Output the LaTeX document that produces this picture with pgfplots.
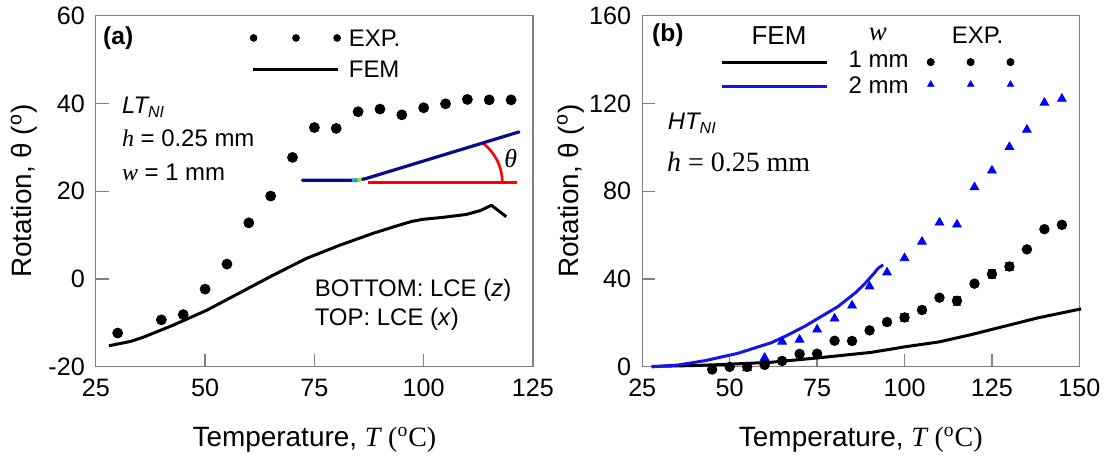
\documentclass[border=0pt]{standalone}
\usepackage{fontspec}
\setmainfont{Liberation Sans}
\newfontfamily\timesfont{Liberation Serif}
\usepackage{pgfplots}
\usepackage{pgfplotstable}
\pgfplotsset{compat=1.18}

\definecolor{framegray}{RGB}{128,128,128}
\definecolor{femblue}{RGB}{20,20,235}
\definecolor{expblue}{RGB}{0,0,255}
\definecolor{navy}{RGB}{10,10,140}

% Panel (a): LT_NI, h = 0.25 mm, w = 1 mm
\pgfplotstableread{
T theta
30 -12.3
40 -9.3
45 -8.1
50 -2.3
55 3.4
60 12.8
65 18.9
70 27.7
75 34.5
80 34.3
85 38.1
90 38.7
95 37.4
100 39.0
105 39.9
110 40.9
115 40.8
120 40.8
}\expA

\pgfplotstableread{
T theta
28 -15.2
33 -14.2
36 -13.2
42.7 -10.5
50.4 -7.1
58 -3.1
65.6 0.9
73.2 4.7
80.8 7.7
88.4 10.4
93.5 12.0
97.2 13.1
99.8 13.6
104 14.0
109.7 14.7
113 15.6
115.5 16.8
118.9 14.2
}\femA

% Panel (b): HT_NI, h = 0.25 mm
\pgfplotstableread{
T theta err
45 -1.2 0
50 0.0 0
55 0.0 0
60 0.9 0
65 2.7 0
70 5.9 0
75 6.0 0
80 11.9 0
85 11.8 0
90 16.6 0
95 20.4 0
100 22.5 2
105 25.9 0
110 31.5 0
115 30.1 2
120 37.9 0
125 42.3 2
130 45.7 2
135 53.5 0
140 62.7 0
145 64.7 1.5
}\expBone

\pgfplotstableread{
T theta
55 -0.6
60 4.1
65 11.5
70 12.4
75 17.0
80 22.0
85 27.9
90 36.6
95 43.0
100 49.5
105 57.0
110 65.7
115 64.8
120 81.8
125 89.4
130 100.1
135 108.0
140 120.3
145 122.1
}\expBtwo

\pgfplotstableread{
T theta
27.7 0.2
40 0.6
50 1.2
61.9 2.1
75.3 4.1
90.5 6.6
100 9.1
110 11.4
119.1 14.7
128.6 18.5
138.1 22.3
150.5 26.4
}\femBone

\pgfplotstableread{
T theta
27.7 0
35 0.8
42.9 2.8
52.4 6.2
61.9 11.0
66 14.0
71.5 18.5
81 27.5
86 33.8
88.6 37.8
90.5 41.2
91.5 43.0
92.5 45.0
93.9 46.5
}\femBtwo

\tikzset{txt/.style={inner sep=0pt, font=\fontsize{12}{14}\selectfont}}

\pgfplotsset{
  panel/.style={
    scale only axis, width=219pt, height=176pt,
    axis line style={framegray, line width=0.6pt},
    tick style={framegray, line width=0.6pt},
    tick align=inside, major tick length=6.5pt,
    xtick pos=bottom, ytick pos=left,
    tick label style={font=\fontsize{12.6}{14}\selectfont},
    /pgf/number format/assume math mode=true,
    xticklabel shift=2.5pt, yticklabel shift=2pt,
    label style={font=\fontsize{14}{16}\selectfont},
    xlabel style={at={(axis description cs:0.5,-0.227)}, anchor=base},
    ylabel style={at={(axis description cs:-0.164,0.5)}, anchor=center},
    xlabel={Temperature, {\timesfont\itshape T} {\timesfont(\textsuperscript{o}C)}},
    ylabel={Rotation, θ (\textsuperscript{o})},
    clip=false,
  },
}

\begin{document}
\begin{tikzpicture}
\path (0,0) rectangle (553.5pt,230.5pt);

% ---------------- (a) ----------------
\begin{axis}[panel, at={(48pt,47pt)}, anchor=south west,
  xmin=25, xmax=125, ymin=-20, ymax=60,
  xtick={25,50,75,100,125}, ytick={-20,0,20,40,60}]
\addplot[black, line width=1.5pt, line join=round] table[x=T, y=theta] {\femA};
\addplot[only marks, mark=*, mark size=2.5pt, black] table[x=T, y=theta] {\expA};

% key
\addplot[only marks, mark=*, mark size=1.7pt, black] coordinates {(61.1,54.9) (70.8,54.9) (80.2,54.9)};
\addplot[black, line width=1.5pt] coordinates {(60.9,47.7) (80.5,47.7)};
\node[txt, anchor=base west] at (axis cs:82.8,53.0) {EXP.};
\node[txt, anchor=base west] at (axis cs:82.8,45.8) {FEM};

\node[txt, anchor=base west, font=\fontsize{12.3}{14}\selectfont\bfseries] at (axis cs:26.6,53.3) {(a)};
\node[txt, anchor=base west] at (axis cs:30.9,37.7) {\textit{LT\textsubscript{NI}}};
\node[txt, anchor=base west] at (axis cs:30.9,30.1) {{\timesfont\itshape h} = 0.25 mm};
\node[txt, anchor=base west] at (axis cs:30.9,22.5) {{\timesfont\itshape w} = 1 mm};
\node[txt, anchor=base west] at (axis cs:75.0,-4.05) {BOTTOM: LCE (\textit{z})};
\node[txt, anchor=base west] at (axis cs:75.0,-10.5) {TOP: LCE (\textit{x})};

% bending strip sketch
\draw[red, line width=1.3pt] (axis cs:87.2,22.0) -- (axis cs:121.3,22.0);
\draw[red, line width=1.3pt] (axis cs:118.0,22.0) arc[start angle=0, end angle=52, radius=24.75pt];
\draw[navy, line width=1.6pt, line join=round, line cap=round]
  (axis cs:72.3,22.5) -- (axis cs:84.5,22.5) -- (axis cs:86.5,22.8) -- (axis cs:88.5,23.4) -- (axis cs:121.8,33.5);
\draw[cyan, line width=1.6pt] (axis cs:83.6,22.5) -- (axis cs:84.8,22.55);
\draw[yellow!70!green, line width=1.6pt] (axis cs:84.8,22.55) -- (axis cs:85.8,22.7);
\node[inner sep=0pt, font=\timesfont\itshape\fontsize{13}{15}\selectfont] at (axis cs:119.9,27.5) {θ};
\end{axis}

% ---------------- (b) ----------------
\begin{axis}[panel, at={(321.75pt,47pt)}, anchor=south west,
  xmin=25, xmax=150, ymin=0, ymax=160,
  xtick={25,50,75,100,125,150}, ytick={0,40,80,120,160}]
\addplot[black, line width=1.5pt, line join=round] table[x=T, y=theta] {\femBone};
\addplot[femblue, line width=1.5pt, line join=round] table[x=T, y=theta] {\femBtwo};
\addplot[only marks, mark=triangle*, mark size=2.5pt, expblue] table[x=T, y=theta] {\expBtwo};
\addplot[only marks, mark=*, mark size=2.4pt, black,
  error bars/.cd, y dir=both, y explicit,
  error bar style={black!80, line width=0.5pt},
  error mark options={black!80, rotate=90, mark size=2.2pt, line width=0.5pt}]
  table[x=T, y=theta, y error=err] {\expBone};

% key
\addplot[black, line width=1.5pt] coordinates {(47.7,138.5) (77.7,138.5)};
\addplot[femblue, line width=1.5pt] coordinates {(47.7,127.9) (77.7,127.9)};
\addplot[only marks, mark=*, mark size=1.8pt, black] coordinates {(107.5,138.8) (118.9,138.8) (130.3,138.8)};
\addplot[only marks, mark=triangle*, mark size=1.8pt, expblue] coordinates {(107.5,128.6) (118.9,128.6) (130.3,128.6)};
\node[txt, anchor=base, font=\fontsize{13}{15}\selectfont] at (axis cs:64.1,146.8) {FEM};
\node[txt, anchor=base, font=\timesfont\itshape\fontsize{13.5}{15}\selectfont] at (axis cs:92.4,148.5) {w};
\node[txt, anchor=base] at (axis cs:120.9,147.3) {EXP.};
\node[txt, anchor=base west] at (axis cs:83.9,136.2) {1 mm};
\node[txt, anchor=base west] at (axis cs:83.9,124.5) {2 mm};

\node[txt, anchor=base west, font=\fontsize{12.3}{14}\selectfont\bfseries] at (axis cs:27.7,148) {(b)};
\node[txt, anchor=base west] at (axis cs:32.2,107.9) {\textit{HT\textsubscript{NI}}};
\node[txt, anchor=base west, font=\timesfont\fontsize{14}{16}\selectfont] at (axis cs:32.0,88.9) {\textit{h} = 0.25 mm};
\end{axis}
\end{tikzpicture}
\end{document}
